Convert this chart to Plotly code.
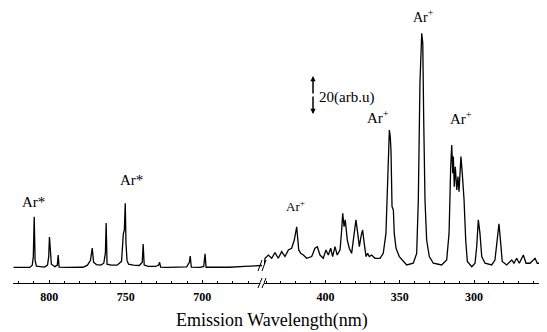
import plotly.graph_objects as go

# ---------------- data ----------------
left_wavelength = [823.38, 812.74, 811.10, 810.42, 809.84, 809.26, 808.39, 803.07, 801.14, 800.36,
                   799.88, 799.40, 798.62, 796.30, 794.75, 794.17, 793.59, 788.56, 777.92, 775.02,
                   773.08, 771.92, 771.05, 769.22, 766.31, 764.38, 763.32, 762.83, 762.25, 759.54,
                   755.67, 752.77, 751.61, 750.94, 750.35, 749.87, 749.19, 748.22, 745.04, 741.16,
                   739.23, 738.65, 737.97, 735.36, 730.52, 728.59, 727.91, 727.23, 722.79, 716.01,
                   710.21, 708.47, 707.89, 707.21, 701.50, 699.09, 698.21, 697.54, 691.83, 682.16,
                   672.49, 664.75, 660.97]
left_intensity = [0.3, 0.3, 1.5, 6, 27, 4, 1, 0.5, 1.5, 6, 16.3, 10,
                  2, 0.7, 1.5, 6.8, 0.5, 0.3, 0.4, 1.5, 4, 10.5, 3, 1.8, 1.5,
                  2.5, 8, 23.7, 2, 1.5, 1.5, 3.5, 18, 20, 34, 13, 4,
                  2, 1.5, 1.3, 3, 12.6, 1.5, 0.8, 0.8, 1.5, 3, 0.5, 0.3, 0.5,
                  0.6, 3, 6.3, 0.4, 0.3, 0.8, 7.4, 0.4, 0.3, 0.4, 0.8, 1.2, 1.3]

right_wavelength = [441.2, 440.7, 438.5, 436.2, 434.0, 431.8, 429.5, 427.3, 425.0, 422.8, 421.0,
                    419.4, 418.0, 416.7, 414.9, 412.7, 409.3, 407.1, 405.5, 403.7, 401.5, 399.7,
                    398.1, 396.5, 395.2, 393.6, 392.1, 390.2, 389.1, 388.4, 387.5, 386.7, 385.3,
                    384.0, 382.4, 380.6, 379.5, 378.3, 377.2, 376.1, 375.0, 373.9, 372.7, 371.6,
                    370.5, 368.9, 366.7, 363.3, 361.1, 359.3, 358.4, 357.4, 357.0, 356.4, 355.9,
                    355.2, 354.3, 353.7, 352.5, 350.3, 345.3, 340.9, 338.6, 337.5, 336.4, 335.2,
                    334.5, 333.9, 333.0, 331.9, 330.1, 327.4, 321.8, 318.4, 316.8, 315.7, 315.0,
                    314.3, 313.9, 313.3, 312.6, 311.6, 310.8, 310.1, 308.8, 307.9, 306.7, 305.6,
                    304.5, 301.5, 299.3, 298.2, 297.1, 296.0, 294.8, 292.6, 288.1, 285.9, 284.3,
                    283.2, 282.0, 281.0, 278.0, 274.6, 273.1, 271.3, 269.5, 266.8, 265.0, 262.3,
                    258.9, 257.4, 254.9]
right_intensity = [2.0, 5.1, 6.8, 5.1, 8.1, 5.1, 8.6, 6.0, 9.5, 10.4, 14.7,
                   21.7, 9.5, 7.7, 6.8, 5.1, 6.0, 10.4, 11.2, 6.8, 5.1, 9.5,
                   6.8, 10.4, 6.0, 11.2, 6.8, 9.5, 20.0, 28.8, 21.7, 25.3, 14.7,
                   10.4, 7.7, 18.2, 25.3, 18.2, 11.2, 16.5, 20.0, 12.8, 6.0, 7.7,
                   6.0, 6.8, 5.1, 5.1, 7.7, 18.2, 39.3, 67.4, 72.6, 69.1, 62.0,
                   32.3, 30.5, 18.2, 10.4, 6.0, 1.6, 2.5, 7.7, 35.8, 97.2, 123.5,
                   118.3, 79.6, 35.8, 14.7, 6.0, 2.5, 1.6, 4.2, 18.2, 53.3, 64.7,
                   49.8, 58.6, 42.8, 53.3, 41.1, 48.1, 40.2, 58.6, 49.8, 35.8, 14.7,
                   3.4, 0.7, 2.5, 11.2, 25.3, 18.2, 6.0, 2.5, 1.6, 4.2, 14.7,
                   23.2, 12.8, 3.4, 1.6, 4.2, 2.5, 5.1, 2.5, 6.8, 2.5, 2.5,
                   5.1, 2.5, 2.5]

left_ticks = [800, 750, 700]
right_ticks = [400, 350, 300]
scale_value = 20
x_title = "Emission Wavelength(nm)"

# ---------------- figure ----------------
serif = "Liberation Serif, Times New Roman, serif"
line_style = dict(color="black", width=1.3)

fig = go.Figure()
fig.add_trace(go.Scatter(x=left_wavelength, y=left_intensity, mode="lines",
                         line=line_style, xaxis="x", yaxis="y", showlegend=False,
                         hoverinfo="skip"))
fig.add_trace(go.Scatter(x=right_wavelength, y=right_intensity, mode="lines",
                         line=line_style, xaxis="x2", yaxis="y", showlegend=False,
                         hoverinfo="skip"))

# The page body has an 8px margin, so the figure starts at page (8, 8).
OFF = 8
W, H = 547 - OFF, 332 - OFF
PLOT_L, PLOT_R, PLOT_T, PLOT_B = 13, 541, OFF, 283   # plot area in page pixels
ml = PLOT_L - OFF
mr = (OFF + W) - PLOT_R
mt = PLOT_T - OFF
mb = (OFF + H) - PLOT_B
pw, ph = PLOT_R - PLOT_L, PLOT_B - PLOT_T


def px(xp):
    return (xp - PLOT_L) / pw


def py(yp):
    return (PLOT_B - yp) / ph


axis_common = dict(showline=True, linecolor="black", linewidth=1, showgrid=False,
                   zeroline=False, ticks="inside", ticklen=3, tickcolor="black",
                   tickwidth=1, tickfont=dict(family=serif, size=12, color="black",
                                              weight="bold"),
                   minor=dict(ticks="inside", ticklen=2, dtick=10, tickcolor="black"),
                   ticklabelstandoff=3, fixedrange=True)

fig.update_layout(
    width=W, height=H,
    margin=dict(l=ml, r=mr, t=mt, b=mb),
    paper_bgcolor="white", plot_bgcolor="white",
    xaxis=dict(domain=[0, px(262)], range=[823.7, 661.0], tickvals=left_ticks,
               anchor="y", **axis_common),
    xaxis2=dict(domain=[px(264), 1], range=[441.4, 254.9], tickvals=right_ticks,
                anchor="y", **axis_common),
    yaxis=dict(range=[-7.9, 136.8], visible=False, fixedrange=True),
    showlegend=False,
)

# Peak labels
labels = [
    ("x", 810.6, 34.5, "Ar*", 15),
    ("x", 746.0, 46.3, "Ar*", 15),
    ("x2", 419.9, 32.6, "Ar<sup>+</sup>", 13),
    ("x2", 364.6, 79.2, "Ar<sup>+</sup>", 15),
    ("x2", 334.3, 132.5, "Ar<sup>+</sup>", 14),
    ("x2", 308.8, 78.7, "Ar<sup>+</sup>", 15),
]
for xr, xv, yv, txt, fs in labels:
    fig.add_annotation(x=xv, y=yv, xref=xr, yref="y", text=txt, showarrow=False,
                       font=dict(family=serif, size=fs, color="black"))

# Scale bar (double-headed arrow) and its label
bar_x, bar_mid = 408.4, 91.0
for sign in (1, -1):
    fig.add_annotation(x=bar_x, y=bar_mid + sign * scale_value / 2, xref="x2", yref="y",
                       ax=bar_x, ay=bar_mid, axref="x2", ayref="y", text="",
                       showarrow=True, arrowhead=2, arrowsize=0.7, arrowwidth=1.5,
                       arrowcolor="black")
fig.add_annotation(x=405.9, y=89.5, xref="x2", yref="y", xanchor="left",
                   text=f"{scale_value}(arb.u)", showarrow=False,
                   font=dict(family=serif, size=15, color="black"))

# Axis title
fig.add_annotation(x=px(272), y=py(320), xref="paper", yref="paper", text=x_title,
                   showarrow=False, xanchor="center", yanchor="middle",
                   font=dict(family=serif, size=18, color="black"))

# Break marks on spectrum and on axis
for (x0, y0, x1, y1) in [(258, 288, 262, 278), (262, 288, 266, 278),
                         (258, 271, 262, 260), (262, 271, 266, 260)]:
    fig.add_shape(type="line", xref="paper", yref="paper",
                  x0=px(x0), y0=py(y0), x1=px(x1), y1=py(y1),
                  line=dict(color="black", width=1))
fig.add_shape(type="line", xref="paper", yref="paper", x0=px(260.5), x1=px(263.5),
              y0=py(283), y1=py(283), line=dict(color="white", width=2), layer="above")

fig.write_html("out.html")
